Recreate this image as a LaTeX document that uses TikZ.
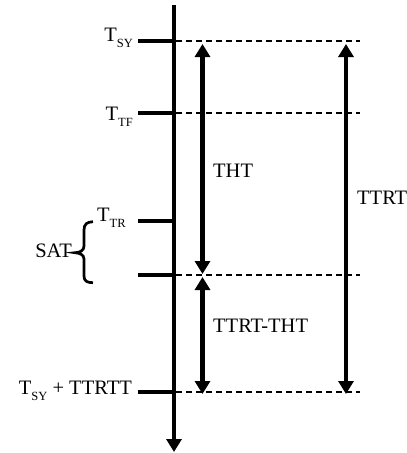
\documentclass[tikz,border=0pt]{standalone}
\usepackage{fontspec}
\setmainfont{Liberation Serif}
\usetikzlibrary{arrows.meta}
\newcommand{\Tsub}[1]{T\raisebox{-6pt}{\fontsize{12.5}{13}\selectfont #1}}
\begin{document}
\begin{tikzpicture}[x=1pt,y=-1pt,
  lbl/.style={inner sep=0pt,font=\fontsize{20.5}{22}\selectfont},
  axisline/.style={line width=3.5pt,-{Triangle[length=13pt,width=15pt]}},
  tick/.style={line width=4pt},
  guide/.style={line width=2.4pt,dash pattern=on 6pt off 4pt},
  span/.style={line width=4.2pt,{Triangle[length=13pt,width=15pt]}-{Triangle[length=13pt,width=15pt]}},
  spanthin/.style={line width=3.2pt,{Triangle[length=13pt,width=15pt]}-{Triangle[length=13pt,width=15pt]}},
  bracestyle/.style={line width=2.7pt}]
\useasboundingbox (0,0) rectangle (407,453);
% axis
\coordinate (atop) at (174,5);
\coordinate (abot) at (174,452);
\draw[axisline] (atop) -- (abot);
% tick coordinates
\coordinate (t1l) at (138,41);  \coordinate (t1r) at (174,41);
\coordinate (t2l) at (138,113); \coordinate (t2r) at (174,113);
\coordinate (t3l) at (138,221); \coordinate (t3r) at (174,221);
\coordinate (t4l) at (138,275); \coordinate (t4r) at (174,275);
\coordinate (t5l) at (138,392); \coordinate (t5r) at (174,392);
\foreach \i in {1,...,5} {\draw[tick] (t\i l) -- (t\i r);}
% dashed guides
\coordinate (d1a) at (176,41);  \coordinate (d1b) at (360,41);
\coordinate (d2a) at (176,113); \coordinate (d2b) at (360,113);
\coordinate (d4a) at (176,275); \coordinate (d4b) at (360,275);
\coordinate (d5a) at (176,392); \coordinate (d5b) at (360,392);
\foreach \i in {1,2,4,5} {\draw[guide] (d\i a) -- (d\i b);}
% spans
\coordinate (htop) at (202.5,44);
\coordinate (hbot) at (202.5,274);
\coordinate (rtop) at (202.5,277);
\coordinate (rbot) at (202.5,394);
\coordinate (ttop) at (346,44);
\coordinate (tbot) at (346,394);
\draw[span] (htop) -- (hbot);
\draw[span] (rtop) -- (rbot);
\draw[spanthin] (ttop) -- (tbot);
% labels
\node[lbl,anchor=base east] (lsy) at (133,41) {\Tsub{SY}};
\node[lbl,anchor=base east] (ltf) at (133,120) {\Tsub{TF}};
\node[lbl,anchor=base west] (ltr) at (97,221) {\Tsub{TR}};
\node[lbl,anchor=base east] (lsat) at (72,257) {SAT};
\node[lbl,anchor=base east] (lend) at (132,394) {\Tsub{SY} + TTRTT};
\node[lbl,anchor=base west] (ltht) at (213,177) {THT};
\node[lbl,anchor=base west] (lttrt) at (357,204) {TTRT};
\node[lbl,anchor=base west] (ldiff) at (213,332) {TTRT-THT};
% brace
\draw[bracestyle] (93,221.7) .. controls (87,222) and (84,224) .. (84,230) -- (84,246)
  .. controls (84,250.5) and (80,252.7) .. (75,252.7)
  .. controls (80,253) and (84,255) .. (84,259) -- (84,276)
  .. controls (84,281) and (87,282.7) .. (93,282.7);
\end{tikzpicture}
\end{document}
